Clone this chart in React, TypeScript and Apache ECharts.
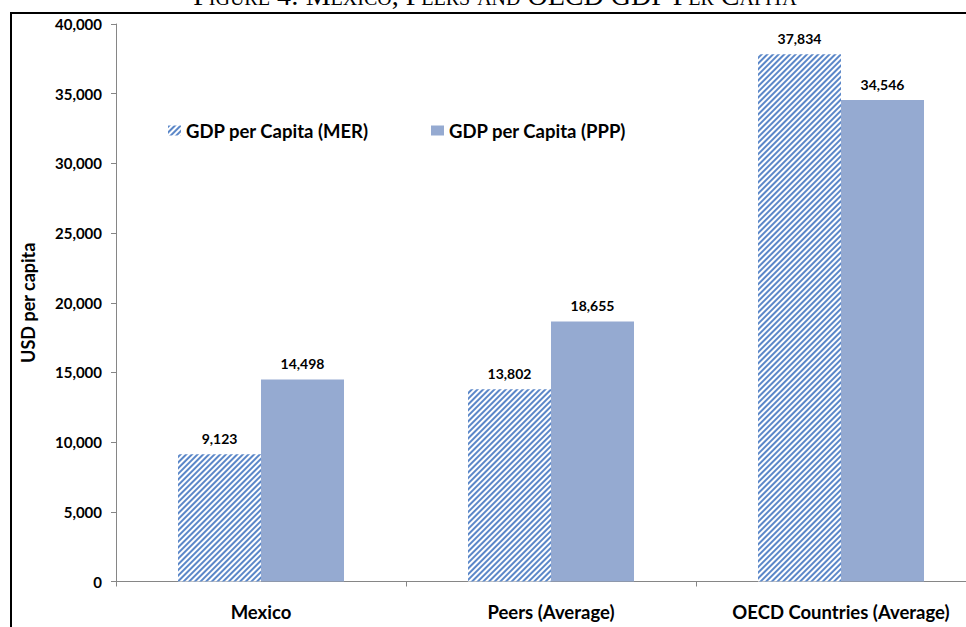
import React, { useEffect, useRef } from "react";
import * as echarts from "echarts";

const categories = ["Mexico", "Peers (Average)", "OECD Countries (Average)"];
const merValues = [9123, 13802, 37834];
const pppValues = [14498, 18655, 34546];
const seriesNames = ["GDP per Capita (MER)", "GDP per Capita (PPP)"];
const yTicks = { min: 0, max: 40000, interval: 5000 };
const titleText = "Figure 4: Mexico, Peers and OECD GDP Per Capita";

const FONT = "Lato";

export default function App() {
  const ref = useRef<HTMLDivElement>(null);
  useEffect(() => {
    if (!ref.current) return;
    const chart = echarts.init(ref.current, null, { renderer: "svg" });
    const labelStyle = {
      show: true,
      position: "top",
      distance: 9,
      fontFamily: FONT,
      fontWeight: "bold",
      fontSize: 14,
      color: "#000",
      formatter: (p: any) => Number(p.value).toLocaleString("en-US"),
    };
    chart.setOption({
      animation: false,
      backgroundColor: "#fff",
      graphic: [
        {
          type: "rect",
          shape: { x: 11, y: 13, width: 1100, height: 800 },
          style: { fill: "none", stroke: "#000", lineWidth: 2 },
          z: 0,
        },
        {
          type: "text",
          x: 495,
          y: 9.5,
          style: {
            text: titleText,
            font: "small-caps 28px 'Liberation Serif'",
            align: "center",
            verticalAlign: "bottom",
            fill: "#000",
          },
        },
      ],
      legend: {
        left: 168,
        top: 121,
        padding: 0,
        itemWidth: 13,
        itemHeight: 10,
        itemGap: 62,
        icon: "rect",
        textStyle: { fontFamily: FONT, fontWeight: "bold", fontSize: 18.5, color: "#000" },
        data: seriesNames,
      },
      grid: { left: 116, top: 24, height: 557.5, width: 870, outerBoundsMode: "none", containLabel: false },
      xAxis: {
        type: "category",
        data: categories,
        axisLine: { lineStyle: { color: "#868686", width: 1 } },
        axisTick: { show: true, length: 5, lineStyle: { color: "#868686" } },
        axisLabel: { interval: 0, fontFamily: FONT, fontWeight: "bold", fontSize: 18.5, color: "#000", margin: 21 },
      },
      yAxis: {
        type: "value",
        min: yTicks.min,
        max: yTicks.max,
        interval: yTicks.interval,
        name: "USD per capita",
        nameLocation: "middle",
        nameRotate: 90,
        nameGap: 79,
        nameTextStyle: { fontFamily: FONT, fontWeight: "bold", fontSize: 18, color: "#000" },
        splitLine: { show: false },
        axisLine: { show: true, lineStyle: { color: "#868686", width: 1 } },
        axisTick: { show: true, length: 5, lineStyle: { color: "#868686" } },
        axisLabel: {
          fontFamily: FONT,
          fontWeight: "bold",
          fontSize: 15,
          color: "#000",
          margin: 14,
          formatter: (v: number) => v.toLocaleString("en-US"),
        },
      },
      series: [
        {
          name: seriesNames[0],
          type: "bar",
          data: merValues,
          barWidth: 83,
          barGap: "0%",
          itemStyle: {
            color: "#ffffff",
            decal: {
              symbol: "rect",
              symbolSize: 1,
              symbolKeepAspect: false,
              color: "#5B87C8",
              backgroundColor: "#ffffff",
              dashArrayX: [1, 0],
              dashArrayY: [2, 2],
              rotation: -Math.PI / 4,
            },
          },
          label: labelStyle,
        },
        {
          name: seriesNames[1],
          type: "bar",
          data: pppValues,
          barWidth: 83,
          barGap: "0%",
          itemStyle: { color: "#95AAD1" },
          label: labelStyle,
        },
      ],
    });
    return () => chart.dispose();
  }, []);
  return (
    <div
      ref={ref}
      style={{ position: "fixed", left: 0, top: 0, width: 966, height: 627, background: "#fff" }}
    />
  );
}
